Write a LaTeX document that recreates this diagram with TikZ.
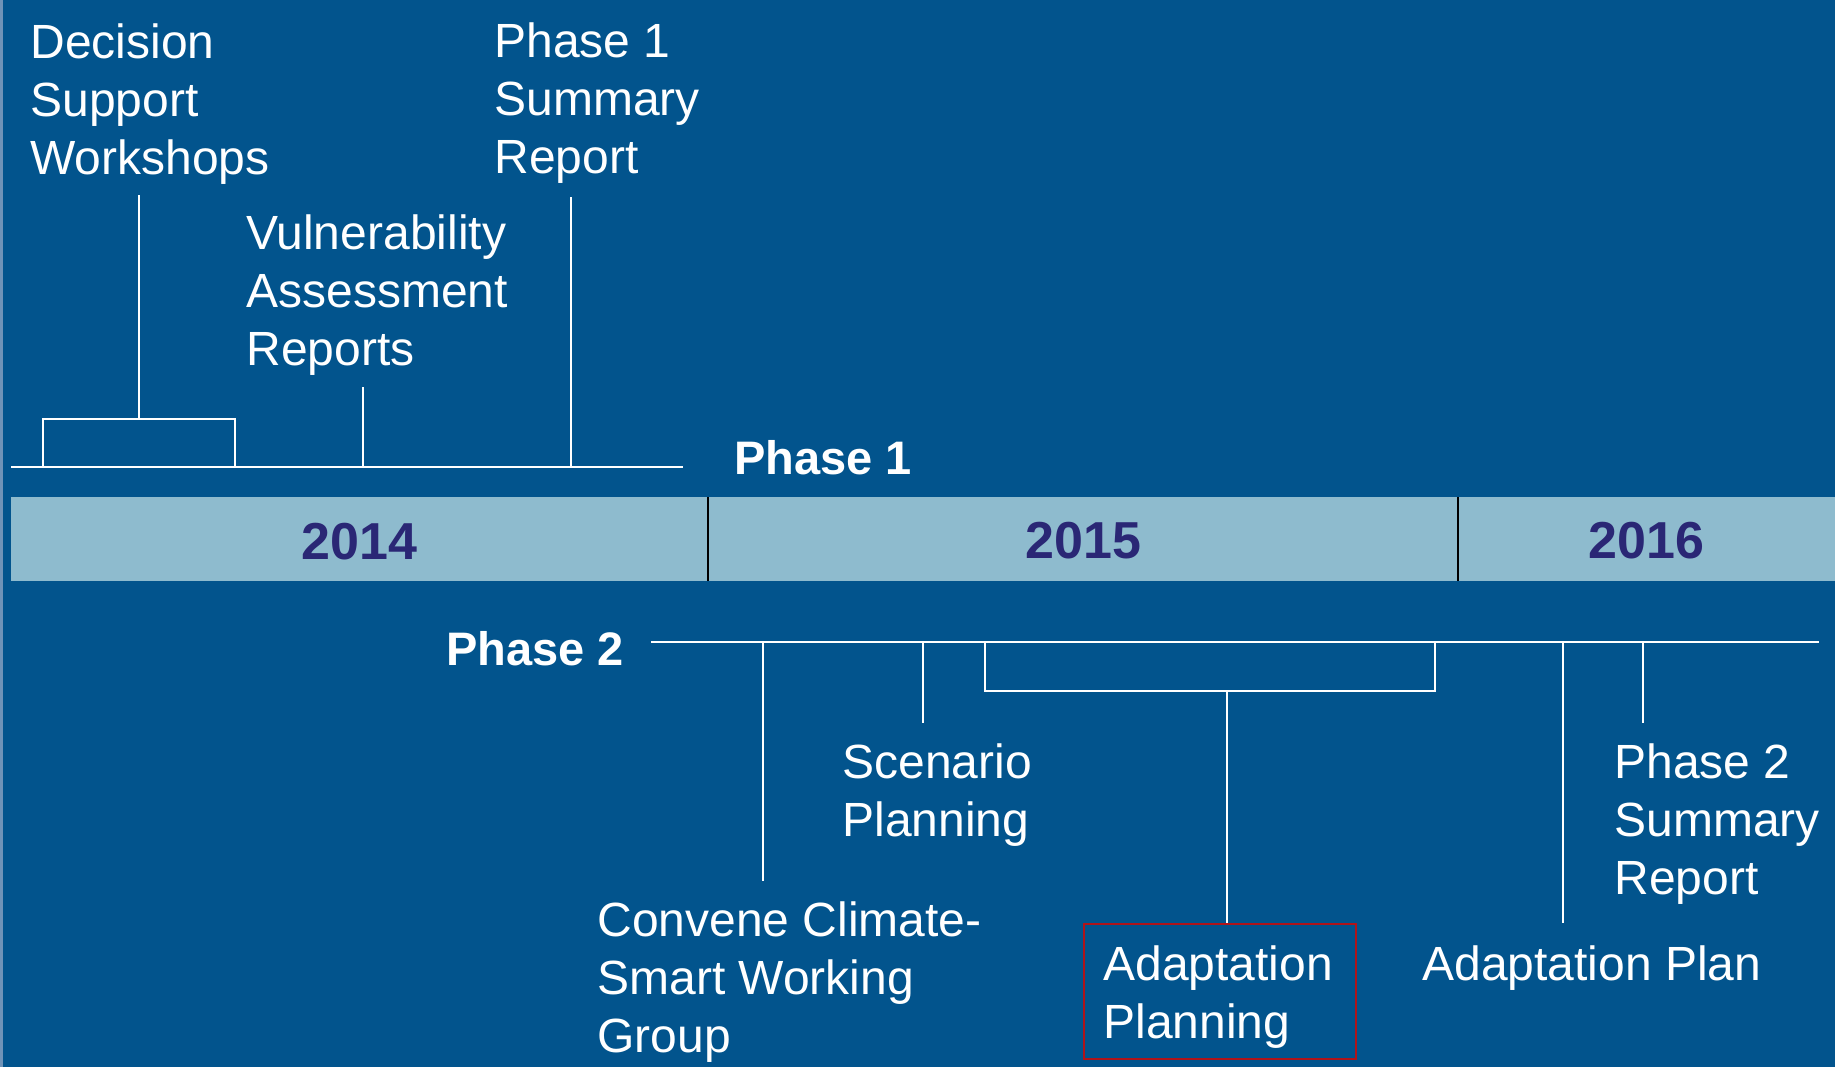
\documentclass[tikz,border=0pt]{standalone}
\usepackage{fontspec}
\setmainfont{Liberation Sans}
\definecolor{bgblue}{HTML}{02548D}
\definecolor{bandblue}{HTML}{8EBBCE}
\definecolor{yearnavy}{HTML}{2A2775}
\definecolor{boxred}{HTML}{B0141A}
\definecolor{edgeblue}{HTML}{6F93B8}
\tikzset{
  lbl/.style={inner sep=0pt, anchor=base west, align=left, text=white,
    font=\fontsize{24pt}{29pt}\selectfont},
  phaselbl/.style={inner sep=0pt, anchor=base west, text=white,
    font=\fontsize{23.5pt}{29pt}\selectfont\bfseries},
  yearlbl/.style={inner sep=0pt, anchor=base, text=yearnavy,
    font=\fontsize{26pt}{30pt}\selectfont\bfseries},
  hline/.style={draw=white, line width=1pt},
  vline/.style={draw=white, line width=0.7pt},
  divider/.style={draw=black, line width=1pt},
}
\begin{document}
\begin{tikzpicture}[x=0.5pt, y=-0.5pt]
\useasboundingbox (0,0) rectangle (1835,1067);
\fill[bgblue] (0,0) rectangle (1835,1067);
\fill[edgeblue] (0,0) rectangle (2.5,1067);
% year band
\fill[bandblue] (11,497) rectangle (1835,581);
\coordinate (d1t) at (708,497); \coordinate (d1b) at (708,581);
\coordinate (d2t) at (1458,497); \coordinate (d2b) at (1458,581);
\draw[divider] (d1t) -- (d1b);
\draw[divider] (d2t) -- (d2b);
\node[yearlbl] (y2014) at (359.5,559) {2014};
\node[yearlbl] (y2015) at (1083.5,558) {2015};
\node[yearlbl] (y2016) at (1646.5,558) {2016};

% Phase 1
\node[phaselbl] (p1) at (734,474) {Phase 1};
\coordinate (p1l) at (11,467); \coordinate (p1r) at (683,467);
\draw[hline] (p1l) -- (p1r);
\node[lbl] (dsw) at (30,174) {Decision\\Support\\Workshops};
\node[lbl] (var) at (246,365) {Vulnerability\\Assessment\\Reports};
\node[lbl] (p1s) at (494,173) {Phase 1\\Summary\\Report};
\coordinate (b1a) at (43,467); \coordinate (b1b) at (43,419);
\coordinate (b1c) at (235,419); \coordinate (b1d) at (235,467);
\draw[vline] (b1a) -- (b1b) -- (b1c) -- (b1d);
\coordinate (dswt) at (139,195); \coordinate (dswb) at (139,419);
\draw[vline] (dswt) -- (dswb);
\coordinate (vart) at (363,387); \coordinate (varb) at (363,467);
\draw[vline] (vart) -- (varb);
\coordinate (p1st) at (571,197); \coordinate (p1sb) at (571,467);
\draw[vline] (p1st) -- (p1sb);

% Phase 2
\node[phaselbl] (p2) at (446,665) {Phase 2};
\coordinate (p2l) at (651,642); \coordinate (p2r) at (1819,642);
\draw[hline] (p2l) -- (p2r);
\node[lbl] (conv) at (597,1052) {Convene Climate-\\Smart Working\\Group};
\node[lbl] (scen) at (842,836) {Scenario\\Planning};
\node[draw=boxred, line width=1pt, inner sep=0pt, minimum width=136pt,
  minimum height=67.5pt, anchor=north west] (apbox) at (1083,923) {};
\node[lbl] (aptext) at (1103,1038) {Adaptation\\Planning};
\node[lbl] (aplan) at (1422,980) {Adaptation Plan};
\node[lbl] (p2s) at (1614,894) {Phase 2\\Summary\\Report};
\coordinate (convt) at (763,642); \coordinate (convb) at (763,881);
\draw[vline] (convt) -- (convb);
\coordinate (scent) at (923,642); \coordinate (scenb) at (923,723);
\draw[vline] (scent) -- (scenb);
\coordinate (b2a) at (985,642); \coordinate (b2b) at (985,691);
\coordinate (b2c) at (1435,691); \coordinate (b2d) at (1435,642);
\draw[vline] (b2a) -- (b2b) -- (b2c) -- (b2d);
\coordinate (b2s) at (1227,691);
\draw[vline] (b2s) -- (b2s |- apbox.north);
\coordinate (aplt) at (1563,642); \coordinate (aplb) at (1563,923);
\draw[vline] (aplt) -- (aplb);
\coordinate (p2st) at (1643,642); \coordinate (p2sb) at (1643,723);
\draw[vline] (p2st) -- (p2sb);
\end{tikzpicture}
\end{document}
